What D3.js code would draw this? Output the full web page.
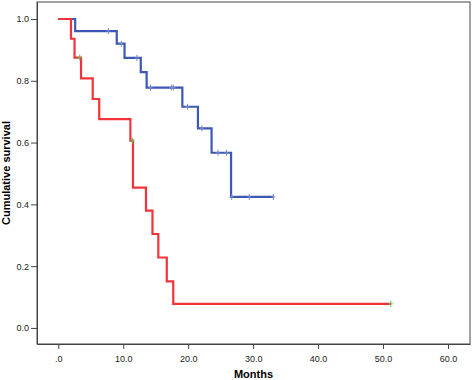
<!DOCTYPE html>
<html lang="en">
<head>
  <meta charset="UTF-8">
  <title>Cumulative survival</title>
  <script src="https://d3js.org/d3.v7.min.js"></script>
  <style>
    body { margin: 0; background: #fff; }
    svg { display: block; }
    .tick text { font-family: "Liberation Sans", Arial, sans-serif; font-size: 9px; fill: #222; }
    .axis-label { font-family: "Liberation Sans", Arial, sans-serif; font-size: 11px; font-weight: bold; fill: #000; }
  </style>
</head>
<body>
<svg width="472" height="380"></svg>
<script>
// group 1 (blue)
const blueTimes = [0, 2.6, 9.0, 10.2, 12.7, 13.6, 19.1, 21.5, 23.6, 26.6, 33.1];
const blueSurv  = [1.0, 0.961, 0.92, 0.874, 0.828, 0.778, 0.716, 0.646, 0.567, 0.424, 0.424];
const blueCensor = [7.7, 9.7, 12.1, 14.2, 17.4, 17.7, 19.9, 22.1, 24.6, 25.9, 26.7, 29.4, 33.1];

// group 2 (red)
const redTimes = [0, 1.95, 2.5, 3.5, 5.3, 6.3, 11.1, 11.5, 13.5, 14.5, 15.4, 16.7, 17.7, 51.2];
const redSurv  = [1.0, 0.936, 0.875, 0.808, 0.741, 0.676, 0.606, 0.454, 0.38, 0.304, 0.228, 0.151, 0.078, 0.078];
const redCensor = [3.3, 11.4, 51.2];

const xTicks = [0, 10, 20, 30, 40, 50, 60];
const xTickLabels = [".0", "10.0", "20.0", "30.0", "40.0", "50.0", "60.0"];
const yTicks = [0, 0.2, 0.4, 0.6, 0.8, 1.0];
const yTickLabels = ["0.0", "0.2", "0.4", "0.6", "0.8", "1.0"];

const svg = d3.select("svg");
const plot = {left: 37, right: 470, top: 2, bottom: 344};

const x = d3.scaleLinear().domain([-3.28, 63.39]).range([plot.left, plot.right]);
const y = d3.scaleLinear().domain([-0.052, 1.055]).range([plot.bottom, plot.top]);

// frame
svg.append("rect")
  .attr("x", plot.left).attr("y", plot.top)
  .attr("width", plot.right - plot.left).attr("height", plot.bottom - plot.top)
  .attr("fill", "#fff").attr("stroke", "#444").attr("stroke-width", 1);

const xAxis = svg.append("g")
  .attr("transform", `translate(0,${plot.bottom})`)
  .call(d3.axisBottom(x).tickValues(xTicks).tickSize(5).tickSizeOuter(0)
    .tickFormat((d, i) => xTickLabels[i]));
xAxis.select(".domain").attr("stroke", "#444");
xAxis.selectAll(".tick line").attr("stroke", "#444");
xAxis.selectAll(".tick text").attr("y", 18).attr("dy", 0);

const yAxis = svg.append("g")
  .attr("transform", `translate(${plot.left},0)`)
  .call(d3.axisLeft(y).tickValues(yTicks).tickSize(6).tickSizeOuter(0)
    .tickFormat((d, i) => yTickLabels[i]));
yAxis.select(".domain").attr("stroke", "#444");
yAxis.selectAll(".tick line").attr("stroke", "#444");
yAxis.selectAll(".tick text").attr("x", -8);

svg.append("text").attr("class", "axis-label")
  .attr("x", (plot.left + plot.right) / 2).attr("y", 378)
  .attr("text-anchor", "middle").text("Months");

svg.append("text").attr("class", "axis-label")
  .attr("transform", `translate(10,${(plot.top + plot.bottom) / 2}) rotate(-90)`)
  .attr("text-anchor", "middle").text("Cumulative survival");

const step = d3.line().curve(d3.curveStepAfter)
  .x(d => x(d[0])).y(d => y(d[1]));

function survAt(times, surv, t) {
  let s = surv[0];
  times.forEach((tt, i) => { if (tt <= t) s = surv[i]; });
  return s;
}

function drawGroup(times, surv, censor, color, censorColor) {
  svg.append("path")
    .datum(times.map((t, i) => [t, surv[i]]))
    .attr("fill", "none").attr("stroke", color).attr("stroke-width", 2.2)
    .attr("d", step);
  svg.append("g").selectAll("path")
    .data(censor)
    .enter().append("path")
    .attr("d", t => {
      const cx = x(t), cy = y(survAt(times, surv, t));
      return `M${cx},${cy - 3}V${cy + 3}M${cx - 2},${cy}H${cx + 2}`;
    })
    .attr("stroke", censorColor).attr("stroke-width", 1).attr("fill", "none");
}

drawGroup(blueTimes, blueSurv, blueCensor, "#3d57b5", "#6f86cf");
drawGroup(redTimes, redSurv, redCensor, "#f2333a", "#59c24a");
</script>
</body>
</html>
